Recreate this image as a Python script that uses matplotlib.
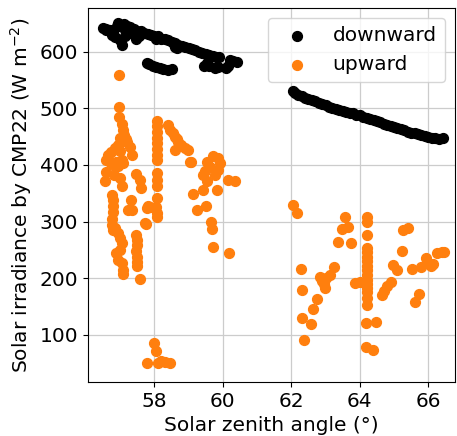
import matplotlib
matplotlib.use("Agg")
import matplotlib.pyplot as plt
import numpy as np

# downward irradiance (black)
down_x = [56.51, 56.6, 56.7, 56.8, 56.9, 56.95, 57.0, 57.05, 57.1, 57.2, 57.3, 57.4, 57.5, 57.6,
          57.7, 57.8, 57.9, 58.0, 58.1, 58.2, 58.3, 58.4, 58.5, 58.6, 58.7, 58.8, 58.9, 59.0,
          59.1, 59.2, 59.3, 59.4, 59.5, 59.6, 59.7, 59.8, 59.9,
          56.6, 56.75, 56.85, 57.0, 57.05, 57.15, 57.3, 57.45, 57.55, 58.05, 58.1, 58.6, 58.65,
          57.78, 57.85, 57.95, 58.05, 58.15, 58.25, 58.4, 58.5,
          59.45, 59.53, 59.6, 59.77, 59.85, 60.1, 60.16, 60.21, 60.3, 60.4,
          62.04, 62.1, 62.2, 62.3, 62.4, 62.5, 62.6, 62.7, 62.8, 62.9, 63.0, 63.1, 63.2, 63.3,
          63.4, 63.5, 63.6, 63.7, 63.8, 63.9, 64.0, 64.1, 64.2, 64.3, 64.4, 64.5, 64.6, 64.7,
          64.8, 64.9, 65.0, 65.1, 65.2, 65.3, 65.4, 65.5, 65.6, 65.7, 65.8, 65.9, 66.0, 66.1,
          66.2, 66.3, 66.44]
down_y = [641, 640, 638, 636, 645, 650, 647, 644, 648, 645, 643, 640, 637, 636,
          633, 631, 629, 627, 625, 623, 622, 620, 617, 615, 612, 610, 608, 606,
          604, 602, 600, 598, 596, 594, 593, 591, 590,
          638, 630, 626, 620, 612, 628, 632, 622, 628, 622, 627, 609, 606,
          580, 578, 575, 573, 571, 570, 568, 569,
          574, 580, 575, 571, 573, 571, 575, 585, 584, 582,
          530, 527, 524, 522, 519, 517, 514, 512, 509, 507, 505, 503, 501, 499,
          497, 495, 494, 492, 491, 489, 488, 485, 482, 481, 479, 477, 475, 473,
          471, 469, 467, 465, 463, 461, 459, 457, 456, 454, 452, 451, 449, 448,
          447, 446, 447]

# upward irradiance (orange)
up_x = [56.97, 56.97, 56.96, 57.04, 57.07, 57.11, 57.18, 56.99, 56.94, 56.84, 56.74, 56.65,
        56.6, 57.28, 57.35, 57.04, 57.07, 56.89, 57.2, 57.0, 56.7, 56.78, 56.95,
        56.6, 56.55, 56.82, 56.99, 57.04, 57.47, 57.57, 57.62, 56.77, 56.78, 56.8, 56.8,
        57.33, 57.23, 57.35, 57.78, 57.88, 58.06,
        56.77, 56.76, 56.8, 56.86, 56.94, 56.99, 57.04, 56.99, 56.89, 56.94, 57.04, 57.09, 57.09,
        57.47, 57.48, 57.48, 57.47, 57.5, 57.48, 57.5, 57.57, 57.74, 57.73, 57.82,
        58.08, 58.07, 58.07, 58.07, 58.07, 58.07, 58.07, 58.07, 58.07, 58.07, 58.07, 58.07,
        58.07, 58.08,
        58.41, 58.46, 58.55, 58.6, 58.65, 58.7, 58.77, 58.9, 58.6, 58.99, 59.06,
        59.04, 59.12, 59.24, 59.51, 59.43, 59.53, 59.43, 59.47, 59.63, 59.72, 59.87, 59.92,
        59.87, 59.53, 59.77, 59.82, 60.16, 60.36, 59.66, 59.69, 59.7, 60.18,
        57.98, 58.06, 57.77, 58.1, 58.2, 58.3, 58.46,
        62.06, 62.16, 62.27, 62.3, 62.74, 62.64, 62.32, 62.57, 62.38,
        62.84, 62.9, 62.99, 62.95, 63.13, 63.25, 63.0,
        63.57, 63.47, 63.66, 63.35, 63.74, 63.86, 64.0,
        64.2, 64.2, 64.2, 64.2, 64.2, 64.2, 64.2, 64.2, 64.2, 64.2, 64.2, 64.2, 64.2,
        64.2, 64.2, 64.2, 64.17, 64.17,
        64.47, 64.38, 64.64, 64.72, 64.8, 64.9, 64.98, 65.1, 65.22, 65.27, 65.42, 65.52,
        65.73, 65.6, 65.8, 65.92, 66.0, 66.08, 66.15, 66.25, 66.4, 66.46]
up_y = [559, 502, 484, 472, 462, 453, 446, 447, 435, 430, 423, 417,
        409, 432, 417, 409, 403, 406, 440, 425, 405, 400, 398,
        387, 371, 383, 377, 362, 384, 374, 359, 347, 338, 327, 317,
        338, 320, 321, 324, 326, 325,
        304, 294, 286, 289, 280, 271, 262, 250, 244, 233, 227, 215, 208,
        277, 268, 258, 248, 238, 228, 221, 199, 296, 297, 327,
        477, 468, 458, 448, 438, 428, 418, 409, 386, 374, 362, 341,
        315, 309,
        471, 462, 456, 450, 445, 441, 435, 430, 427, 427, 405,
        405, 349, 321, 327, 356, 371, 383, 389, 397, 415, 412, 403,
        391, 406, 383, 356, 374, 372, 300, 287, 255, 244,
        86, 71, 51, 51, 54, 53, 50,
        330, 316, 217, 180, 163, 146, 130, 120, 92,
        203, 196, 183, 190, 206, 220, 200,
        309, 287, 291, 264, 262, 192, 194,
        309, 300, 277, 254, 246, 238, 230, 222, 215, 205, 197, 190, 183,
        175, 165, 153, 121, 79,
        123, 74, 171, 178, 186, 193, 224, 215, 248, 286, 288, 217,
        173, 159, 220, 236, 227, 222, 226, 245, 246, 246]

x_ticks = [58, 60, 62, 64, 66]
y_ticks = [100, 200, 300, 400, 500, 600]

plt.rcParams['font.size'] = 14.5
fig = plt.figure(figsize=(4.57, 4.36), dpi=100)
ax = fig.add_axes([88/457, 1-382/436, (455-88)/457, (382-8)/436])
ax.set_axisbelow(True)
ax.grid(True, color='#cccccc', linewidth=0.9)
ax.scatter(down_x, down_y, s=50, color='black', label='downward', zorder=2)
ax.scatter(up_x, up_y, s=50, color='#ff7f0e', label='upward', zorder=2)
ax.set_xlim(56.06, 66.78)
ax.set_ylim(17, 677)
ax.set_xticks(x_ticks)
ax.set_yticks(y_ticks)
ax.set_xlabel('Solar zenith angle (°)')
ax.set_ylabel(r'Solar irradiance by CMP22 (W m$^{-2}$)')
ax.legend(loc='upper right')
fig.savefig('out.png', dpi=100)
